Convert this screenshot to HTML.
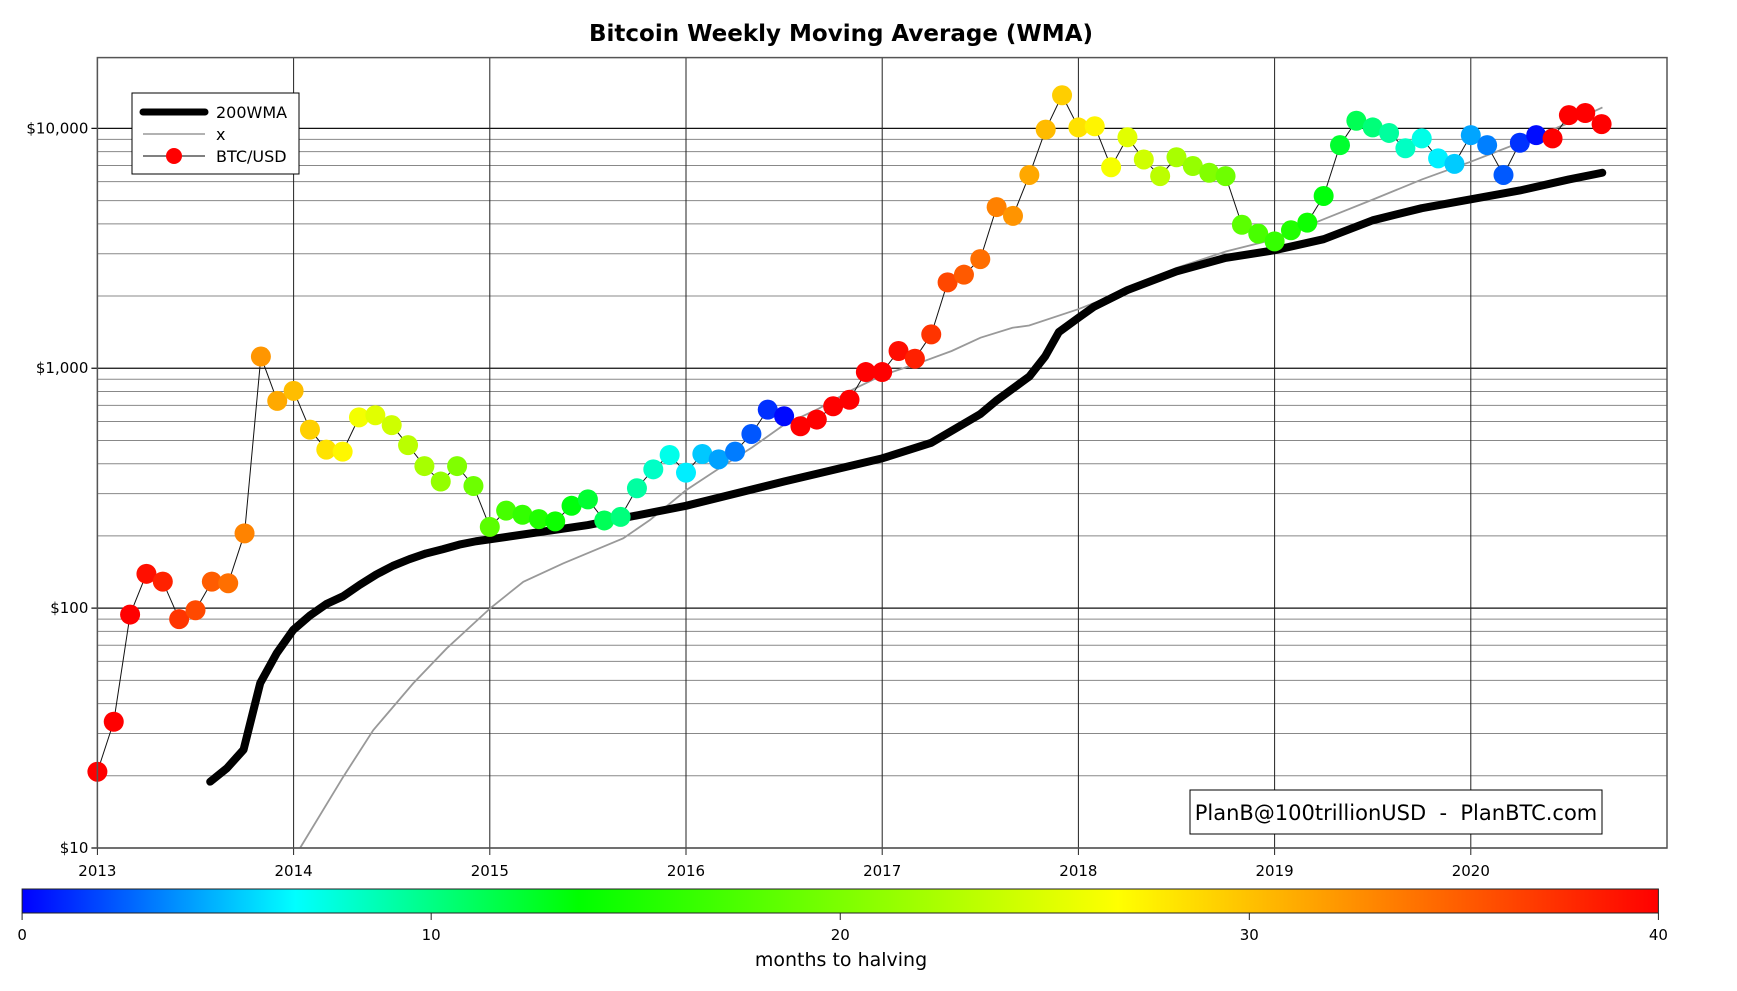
<!DOCTYPE html>
<html><head><meta charset="utf-8"><style>
html,body{margin:0;padding:0;background:#fff;}
svg{display:block;font-family:"DejaVu Sans","Liberation Sans",sans-serif;}
</style></head><body>
<svg id="chart" width="1737" height="991" viewBox="0 0 1737 991" xmlns="http://www.w3.org/2000/svg">
<defs>
<linearGradient id="cmap" x1="0" x2="1" y1="0" y2="0">
<stop offset="0" stop-color="#0000ff"/>
<stop offset="0.167" stop-color="#00ffff"/>
<stop offset="0.34" stop-color="#00ff00"/>
<stop offset="0.67" stop-color="#ffff00"/>
<stop offset="1" stop-color="#ff0000"/>
</linearGradient>
</defs>
<text x="841" y="41" text-anchor="middle" font-size="23" font-weight="bold">Bitcoin Weekly Moving Average (WMA)</text>
<g id="grid"></g>
<g id="series"></g>
<rect x="97.4" y="57.6" width="1569.6" height="790.4" fill="none" stroke="#555" stroke-width="1.5"/>
<g>
<rect x="132" y="93" width="167" height="81" fill="#fff" stroke="#000" stroke-width="1"/>
<line x1="143" y1="112" x2="205" y2="112" stroke="#000" stroke-width="7" stroke-linecap="round"/>
<text x="216" y="118" font-size="16">200WMA</text>
<line x1="143" y1="134" x2="205" y2="134" stroke="#999" stroke-width="1.5"/>
<text x="216" y="140" font-size="16">x</text>
<line x1="143" y1="156" x2="205" y2="156" stroke="#000" stroke-width="1"/>
<circle cx="174" cy="156" r="8" fill="#ff0000"/>
<text x="216" y="162" font-size="16">BTC/USD</text>
</g>
<g>
<rect x="1190" y="790" width="412" height="44" fill="#fff" stroke="#000" stroke-width="1"/>
<text x="1396" y="820" text-anchor="middle" font-size="21" xml:space="preserve">PlanB@100trillionUSD&#160;&#160;-&#160;&#160;PlanBTC.com</text>
</g>
<rect x="22.1" y="889" width="1636.3" height="24" fill="url(#cmap)" stroke="#222" stroke-width="1"/>
<g id="cbticks"></g>
<text x="841" y="966" text-anchor="middle" font-size="19">months to halving</text>
</svg>
<script>
const yearTicks = [2013,2014,2015,2016,2017,2018,2019,2020];
const priceTicks = [10,100,1000,10000];
const priceTickLabels = ["$10","$100","$1,000","$10,000"];
const cbTicks = [0,10,20,30,40];
const halvings = [2012.91, 2016.52, 2020.36, 2024.30];
const btcStartYear = 2013;
const btcPrices = [20.8,33.6,94,139,129,90,98,129,127,205,1119,731,
 805,555,458,449,624,637,579,478,391,337,391,323,
 218,255,245,235,230,267,284,232,240,316,379,435,
 367,439,417,449,532,672,631,573,611,694,739,964,
 964,1180,1096,1384,2280,2455,2851,4698,4315,6394,9885,13740,
 10090,10200,6887,9180,7420,6324,7580,6966,6530,6324,3963,3640,
 3380,3760,4046,5225,8510,10760,10090,9570,8260,9080,7500,7110,
 9370,8510,6394,8710,9370,9080,11350,11590,10420];
const wmaYears = [2013.575,2013.66,2013.745,2013.83,2013.914,2013.998,2014.083,2014.167,2014.252,2014.337,2014.421,2014.506,2014.59,2014.675,2014.76,2014.845,2014.93,2015.01,2015.5,2016.0,2016.5,2017.0,2017.25,2017.5,2017.58,2017.75,2017.83,2017.9,2018.0,2018.08,2018.25,2018.5,2018.75,2019.0,2019.25,2019.5,2019.75,2020.0,2020.25,2020.5,2020.67];
const wmaPrices = [18.9,21.5,25.7,48.7,64.9,81.1,93.1,104,112,125,138,150,160,169,176,184,190,194,222,267,337,421,489,644,731,924,1119,1414,1623,1806,2118,2535,2884,3105,3451,4137,4648,5058,5508,6124,6531];
const xYears = [2014.033,2014.253,2014.406,2014.61,2014.78,2015.003,2015.171,2015.375,2015.68,2015.816,2016.0,2016.17,2016.339,2016.497,2016.677,2016.847,2016.999,2017.185,2017.354,2017.501,2017.664,2017.749,2018.003,2018.245,2018.499,2018.753,2019.001,2019.249,2019.503,2019.751,2020.0,2020.248,2020.501,2020.671];
const xPrices = [10,19.8,31.0,48.6,67.9,100,128.8,153.7,195.4,232.9,310,383,469,579,679,813,934,1050,1180,1341,1475,1507,1767,2118,2619,3070,3451,4178,5058,6124,7261,8710,10540,12220];

const NS = "http://www.w3.org/2000/svg";
const X0=97.4, X1=1667, Y0=57.6, Y1=848;
const yearMin=2013, yearMax=2021;
const logMin=1, logMax=4.295;
function xScale(y){return X0+(y-yearMin)/(yearMax-yearMin)*(X1-X0);}
function yScale(p){return Y1-(Math.log10(p)-logMin)/(logMax-logMin)*(Y1-Y0);}
const CB0=22.1, CB1=1658.4;
function cbScale(v){return CB0+v/40*(CB1-CB0);}
function mk(tag,attrs,parent){const e=document.createElementNS(NS,tag);for(const k in attrs)e.setAttribute(k,attrs[k]);parent.appendChild(e);return e;}
function cmap(v){
  const t=Math.max(0,Math.min(40,v))/40;
  const st=[[0,[0,0,255]],[0.167,[0,255,255]],[0.34,[0,255,0]],[0.67,[255,255,0]],[1,[255,0,0]]];
  for(let i=1;i<st.length;i++){if(t<=st[i][0]){const a=st[i-1],b=st[i];const f=(t-a[0])/(b[0]-a[0]);
    const c=a[1].map((q,j)=>Math.round(q+(b[1][j]-q)*f));return `rgb(${c[0]},${c[1]},${c[2]})`;}}
  return "rgb(255,0,0)";
}
function monthsToHalving(yr){for(const h of halvings){if(h>=yr)return (h-yr)*12;}return 40;}

const grid=document.getElementById('grid');
for(let d=1;d<4;d++){for(let m=2;m<=9;m++){const p=m*Math.pow(10,d);const y=yScale(p);
  const l=mk('line',{x1:X0,x2:X1,y1:y,y2:y,stroke:'#888','stroke-width':1},grid);
  
  }}
priceTicks.forEach((p,i)=>{const y=yScale(p);
  const l=mk('line',{x1:X0-6,x2:X1,y1:y,y2:y,stroke:'#111','stroke-width':1.3},grid);
  
  
  const t=mk('text',{x:X0-9,y:y+5,'text-anchor':'end','font-size':15},grid);t.textContent=priceTickLabels[i];
  
  });
yearTicks.forEach(yr=>{const x=xScale(yr);
  const l=mk('line',{x1:x,x2:x,y1:Y0,y2:Y1+7,stroke:'#222','stroke-width':1},grid);
  
  
  const t=mk('text',{x:x,y:876,'text-anchor':'middle','font-size':15},grid);t.textContent=String(yr);
  
  });

const cbg=document.getElementById('cbticks');
cbTicks.forEach(v=>{const x=cbScale(v);
  const l=mk('line',{x1:x,x2:x,y1:913,y2:920,stroke:'#222','stroke-width':1},cbg);
  
  
  const t=mk('text',{x:x,y:940,'text-anchor':'middle','font-size':15},cbg);t.textContent=String(v);
  
  });

const ser=document.getElementById('series');
const xl=mk('polyline',{points:xYears.map((y,i)=>xScale(y)+','+yScale(xPrices[i])).join(' '),fill:'none',stroke:'#999','stroke-width':1.8},ser);


const btcYears=btcPrices.map((p,i)=>btcStartYear+i/12);
const bl=mk('polyline',{points:btcYears.map((y,i)=>xScale(y)+','+yScale(btcPrices[i])).join(' '),fill:'none',stroke:'#111','stroke-width':1},ser);


const wl=mk('polyline',{points:wmaYears.map((y,i)=>xScale(y)+','+yScale(wmaPrices[i])).join(' '),fill:'none',stroke:'#000','stroke-width':8,'stroke-linecap':'round','stroke-linejoin':'round'},ser);


btcPrices.forEach((p,i)=>{const yr=btcYears[i];
  const c=mk('circle',{cx:xScale(yr),cy:yScale(p),r:10,fill:cmap(monthsToHalving(yr))},ser);
  
  });
</script>
</body></html>
